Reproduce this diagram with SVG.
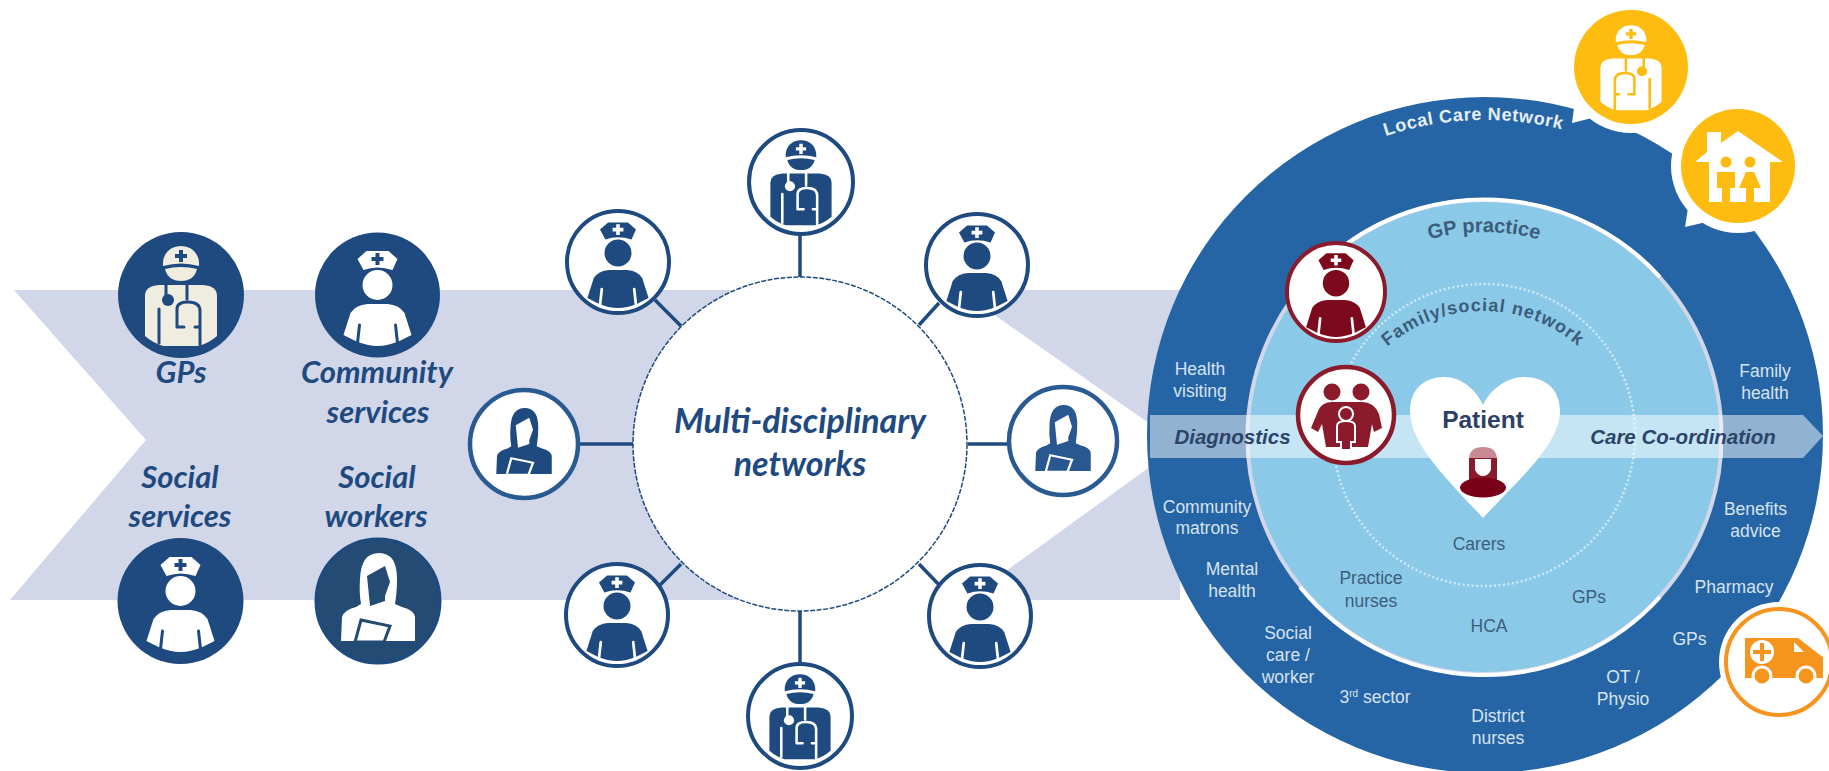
<svg xmlns="http://www.w3.org/2000/svg" xmlns:xlink="http://www.w3.org/1999/xlink" width="1829" height="771" viewBox="0 0 1829 771">
<style>
.lt{font-family:Lato,"Open Sans",sans-serif;font-weight:700;font-style:italic;fill:#1f4a7f;text-anchor:middle}
.l{font-size:31px}
.m{font-size:34px}
.o{font-family:"Liberation Sans",Arial,sans-serif;font-size:17.5px;fill:#d7e3f0;text-anchor:middle}
.i{font-family:"Liberation Sans",Arial,sans-serif;font-size:17.5px;fill:#3d5c7c;text-anchor:middle}
.b{font-family:"Liberation Sans",Arial,sans-serif;font-weight:700;font-style:italic;font-size:20.5px;fill:#2c4468;text-anchor:middle}
.c{font-family:"Liberation Sans",Arial,sans-serif;font-weight:700}
.cn line{stroke:#1f4a7f;stroke-width:3.5}
.fg{fill:var(--fg)}.bg{fill:var(--bg)}.bl{fill:none;stroke:var(--bg);stroke-linecap:round}
.nw{fill:#fff;stroke:#1f4a7f;stroke-width:4}
.nw2{fill:#fff;stroke:#2a5a92;stroke-width:4.5}
</style>
<defs>
<g id="doctor">
<path class="fg" d="M-18 -29C-19 -42 -10 -49 0 -49C10 -49 19 -42 18 -29Q0 -34 -18 -29Z"/>
<path class="fg" d="M-16 -26Q0 -30 16 -26C14 -17 7 -14 0 -14C-7 -14 -14 -17 -16 -26Z"/>
<path class="bg" d="M-2 -45H2V-41H6V-37H2V-33H-2V-37H-6V-41H-2Z"/>
<path class="fg" d="M-36 41V1Q-36 -9 -22 -10H22Q36 -9 36 1V41Q28 48 18 51H-18Q-28 48 -36 41Z"/>
<path class="bl" stroke-width="3" d="M-15 -12V4M6 -12V4M-4 32V14Q-4 7 7 7Q19 7 19 16V50M-4 32H3M14 32H19M-22 14V48"/>
<circle class="bg" cx="-13" cy="5" r="6"/>
</g>
<g id="nurse">
<path class="fg" d="M-20 -36L-11 -44H11L20 -36L15 -25Q0 -30 -14 -25Z"/>
<path class="bg" d="M-2 -42H2V-38H6V-34H2V-30H-2V-34H-6V-38H-2Z"/>
<circle class="fg" cx="0" cy="-10" r="15"/>
<path class="fg" d="M-34 40L-27 18Q-22 10 -10 9H10Q22 10 27 18L34 40L22 46Q10 51 0 51Q-10 51 -22 46Z"/>
<path class="bl" stroke-width="3" d="M-18 30L-20 48M18 30L20 48"/>
</g>
<g id="woman">
<path class="fg" d="M-37 40L-36 16Q-34 9 -22 6L-17 3Q-19 -8 -18 -22Q-17 -48 1 -48Q19 -48 19 -22Q19 -8 17 3L24 6Q36 9 37 16V40Z"/>
<path class="bg" d="M-11 -25L7 -35L12 -19L7 -5V0L-8 5Z"/>
<path class="fg" stroke="var(--bg)" stroke-width="3" d="M-17 19L12 25L6 41H-23Z"/>
</g>
<g id="house">
<path class="fg" d="M-43 -4L-31 -14V-34H-17V-23L0 -35L45 -4H32V36H-29V-4Z"/>
<circle class="bg" cx="-12" cy="-4" r="5.500"/><circle class="bg" cx="12" cy="-4" r="5.500"/>
<path class="bg" d="M-21 6H-3V22H-8V36H-16V22H-21ZM8 6H16L23 22H16V36H8V22H1Z"/>
</g>
<g id="ambulance">
<path class="fg" d="M-34 -24H19L41 -7L44 -5V16H-34Z"/>
<circle class="fg" cx="-17" cy="14" r="9" stroke="var(--bg)" stroke-width="3"/><circle class="fg" cx="27" cy="14" r="9" stroke="var(--bg)" stroke-width="3"/>
<path class="bg" d="M15 -20L25 -10H15Z"/>
<circle class="bg" cx="-17" cy="-10" r="12"/>
<path class="fg" d="M-19 -19H-15V-12H-8V-8H-15V-1H-19V-8H-26V-12H-19Z"/>
</g>
<path id="pLocal" d="M1170 435A315 315 0 0 1 1800 435"/>
<path id="pGP" d="M1279 437A205 205 0 0 1 1689 437"/>
<path id="pFam" d="M1337 457A146 146 0 0 1 1629 457"/>
</defs>

<g id="bands" fill="#d1d7e8">
<path d="M14 290H800V600H10L146 440Z"/>
<path d="M959 290H1180V600H966L1180 445Z"/>
</g>

<g id="connectors" class="cn">
<line x1="800" y1="235" x2="800" y2="277"/>
<line x1="655" y1="300" x2="681" y2="326"/>
<line x1="939" y1="303" x2="919" y2="325"/>
<line x1="578" y1="444" x2="634" y2="444"/>
<line x1="968" y1="444" x2="1008" y2="444"/>
<line x1="681" y1="564" x2="655" y2="590"/>
<line x1="919" y1="564" x2="944" y2="590"/>
<line x1="800" y1="611" x2="800" y2="663"/>
</g>

<g id="hub">
<circle cx="800" cy="444" r="167" fill="#fff" stroke="#1f4a7f" stroke-width="1.5" stroke-dasharray="5 1.5"/>
<text class="lt m" x="800" y="433">Multi-disciplinary</text>
<text class="lt m" x="800" y="476">networks</text>
</g>

<g id="n-gps" style="--fg:#efece0;--bg:#1f4a7f"><circle cx="181" cy="295" r="63" fill="#1f4a7f"/><use href="#doctor" x="181" y="295"/><text class="lt l" x="181" y="383">GPs</text></g>
<g id="n-community" style="--fg:#fff;--bg:#1f4a7f"><circle cx="377.500" cy="295" r="62.500" fill="#1f4a7f"/><use href="#nurse" x="377.500" y="295"/><text class="lt l" x="377" y="383">Community</text><text class="lt l" x="378" y="423">services</text></g>
<g id="n-social-services" style="--fg:#fff;--bg:#1f4a7f"><circle cx="180.500" cy="601" r="63" fill="#1f4a7f"/><use href="#nurse" x="180.500" y="601"/><text class="lt l" x="180" y="488">Social</text><text class="lt l" x="180" y="527">services</text></g>
<g id="n-social-workers" style="--fg:#fff;--bg:#234b73"><circle cx="378" cy="601" r="62" fill="#234b73" stroke="#1f4a7f" stroke-width="3"/><use href="#woman" x="378" y="601"/><text class="lt l" x="377" y="488">Social</text><text class="lt l" x="376" y="527">workers</text></g>

<g id="m-top" style="--fg:#1f4a7f;--bg:#fff"><circle class="nw" cx="801" cy="182" r="52"/><use href="#doctor" transform="translate(801 182) scale(.85)"/></g>
<g id="m-tl" style="--fg:#1f4a7f;--bg:#fff"><circle class="nw" cx="618" cy="262" r="51"/><use href="#nurse" transform="translate(618 262) scale(.9)"/></g>
<g id="m-tr" style="--fg:#1f4a7f;--bg:#fff"><circle class="nw" cx="977" cy="265" r="51"/><use href="#nurse" transform="translate(977 265) scale(.9)"/></g>
<g id="m-l" style="--fg:#1f4a7f;--bg:#fff"><circle class="nw2" cx="524" cy="444" r="54"/><use href="#woman" transform="translate(524 444) scale(.75)"/></g>
<g id="m-r" style="--fg:#28588f;--bg:#fff"><circle class="nw2" cx="1063" cy="441" r="54"/><use href="#woman" transform="translate(1063 441) scale(.75)"/></g>
<g id="m-bl" style="--fg:#1f4a7f;--bg:#fff"><circle class="nw" cx="617" cy="615" r="51"/><use href="#nurse" transform="translate(617 615) scale(.9)"/></g>
<g id="m-br" style="--fg:#1f4a7f;--bg:#fff"><circle class="nw" cx="980" cy="616" r="51"/><use href="#nurse" transform="translate(980 616) scale(.9)"/></g>
<g id="m-bottom" style="--fg:#1f4a7f;--bg:#fff"><circle class="nw" cx="800" cy="716" r="52"/><use href="#doctor" transform="translate(800 716) scale(.85)"/></g>

<g id="local-care-network">
<circle cx="1485" cy="435" r="338" fill="#2565a5"/>
<circle cx="1484.500" cy="437" r="237" fill="#8acae8" stroke="#d1d7e8" stroke-width="4"/>
<path d="M1345 245A237 237 0 0 1 1660 277" fill="none" stroke="#fff" stroke-width="4"/>
<path d="M1300 587A237 237 0 0 0 1660 597" fill="none" stroke="#fff" stroke-width="4"/>
<circle cx="1484" cy="435" r="151" fill="none" stroke="#cfeaf7" stroke-width="2.500" stroke-dasharray="2 2.500"/>
<path d="M1150 415H1803L1823 436L1803 458H1150Z" fill="#fff" fill-opacity=".5"/>
<text class="c" font-size="18" fill="#e6eef6" letter-spacing=".6"><textPath href="#pLocal" startOffset="483" text-anchor="middle">Local Care Network</textPath></text>
<text class="c" font-size="20" fill="#3d5c7c"><textPath href="#pGP" startOffset="50%" text-anchor="middle">GP practice</textPath></text>
<text class="c" font-size="18" fill="#3d5c7c" letter-spacing="1"><textPath href="#pFam" startOffset="50%" text-anchor="middle">Family/social network</textPath></text>
<text class="o" x="1200"><tspan x="1200" y="375">Health</tspan><tspan x="1200" y="397">visiting</tspan></text>
<text class="o"><tspan x="1765" y="377">Family</tspan><tspan x="1765" y="399">health</tspan></text>
<text class="o"><tspan x="1207" y="513">Community</tspan><tspan x="1207" y="534">matrons</tspan></text>
<text class="o"><tspan x="1232" y="575">Mental</tspan><tspan x="1232" y="597">health</tspan></text>
<text class="o"><tspan x="1288" y="639">Social</tspan><tspan x="1288" y="661">care /</tspan><tspan x="1288" y="683">worker</tspan></text>
<text class="o" x="1375" y="703">3<tspan font-size="10" dy="-6">rd</tspan><tspan dy="6"> sector</tspan></text>
<text class="o"><tspan x="1498" y="722">District</tspan><tspan x="1498" y="744">nurses</tspan></text>
<text class="o"><tspan x="1623" y="683">OT /</tspan><tspan x="1623" y="705">Physio</tspan></text>
<text class="o" x="1689.500" y="645">GPs</text>
<text class="o" x="1734" y="593">Pharmacy</text>
<text class="o"><tspan x="1755.500" y="515">Benefits</tspan><tspan x="1755.500" y="537">advice</tspan></text>
<text class="i" x="1479" y="550">Carers</text>
<text class="i"><tspan x="1371" y="584">Practice</tspan><tspan x="1371" y="607">nurses</tspan></text>
<text class="i" x="1589" y="603">GPs</text>
<text class="i" x="1489" y="632">HCA</text>
<text class="b" x="1232.500" y="444">Diagnostics</text>
<text class="b" x="1683" y="444">Care Co-ordination</text>
</g>

<g id="patient">
<path d="M1483 518C1450 482 1410 445 1410 411C1410 389 1425 377 1444 377C1462 377 1476 390 1483 405C1490 390 1506 377 1524 377C1545 377 1560 389 1560 411C1560 445 1516 482 1483 518Z" fill="#fff"/>
<text x="1483" y="428" text-anchor="middle" font-family="'Liberation Sans',Arial,sans-serif" font-weight="700" font-size="24.500" fill="#2e3f66">Patient</text>
<path d="M1469 482V458H1497V482Z" fill="#8b1a2b"/>
<path d="M1469 458Q1470 447 1483 447Q1496 447 1497 458Z" fill="#c98a94"/>
<path d="M1475 459H1491V470Q1488 476 1483 476Q1478 476 1475 470Z" fill="#fff"/>
<ellipse cx="1483" cy="487.500" rx="23" ry="10" fill="#7a0018"/>
</g>

<g id="r-nurse" style="--fg:#7d0a1c;--bg:#fff"><circle cx="1336" cy="292" r="49" fill="#fff" stroke="#8b1a2b" stroke-width="4"/><use href="#nurse" transform="translate(1336 292) scale(.88)"/></g>
<g id="r-family">
<circle cx="1346" cy="415" r="48" fill="#fff" stroke="#8b1a2b" stroke-width="4.500"/>
<g fill="#8b1a2b">
<circle cx="1332" cy="392" r="8.500"/><circle cx="1361" cy="392" r="8.500"/>
<path d="M1318 432L1311 428L1319 409Q1323 402 1332 402H1362Q1374 402 1379 414L1382 428L1374 432L1372 424L1368 447H1326L1322 424Z"/>
</g>
<circle cx="1346" cy="414" r="7" fill="#8b1a2b" stroke="#fff" stroke-width="2"/>
<path d="M1337 426Q1337 421 1346 421Q1355 421 1355 426V442H1351V450H1341V442H1337Z" fill="#8b1a2b" stroke="#fff" stroke-width="2"/>
</g>

<g id="b-doctor" style="--fg:#fff;--bg:#febc11">
<path d="M1574 108L1572 123L1592 118L1600 100Z" fill="#fff"/>
<circle cx="1631" cy="67" r="66" fill="#fff"/>
<circle cx="1631" cy="67" r="57" fill="#febc11"/>
<use href="#doctor" transform="translate(1631 67) scale(-.85 .85)"/>
</g>
<g id="b-house" style="--fg:#fff;--bg:#febc11">
<path d="M1688 208L1685 227L1702 223L1705 190Z" fill="#fff"/>
<circle cx="1738" cy="166" r="67" fill="#fff"/>
<circle cx="1738" cy="166" r="57" fill="#febc11"/>
<use href="#house" x="1738" y="166"/>
</g>
<g id="b-ambulance" style="--fg:#f7941d;--bg:#fff">
<circle cx="1779" cy="662" r="60" fill="#fff"/>
<circle cx="1779" cy="662" r="53" fill="#fff" stroke="#f7941d" stroke-width="4"/>
<use href="#ambulance" x="1779" y="662"/>
</g>
</svg>
